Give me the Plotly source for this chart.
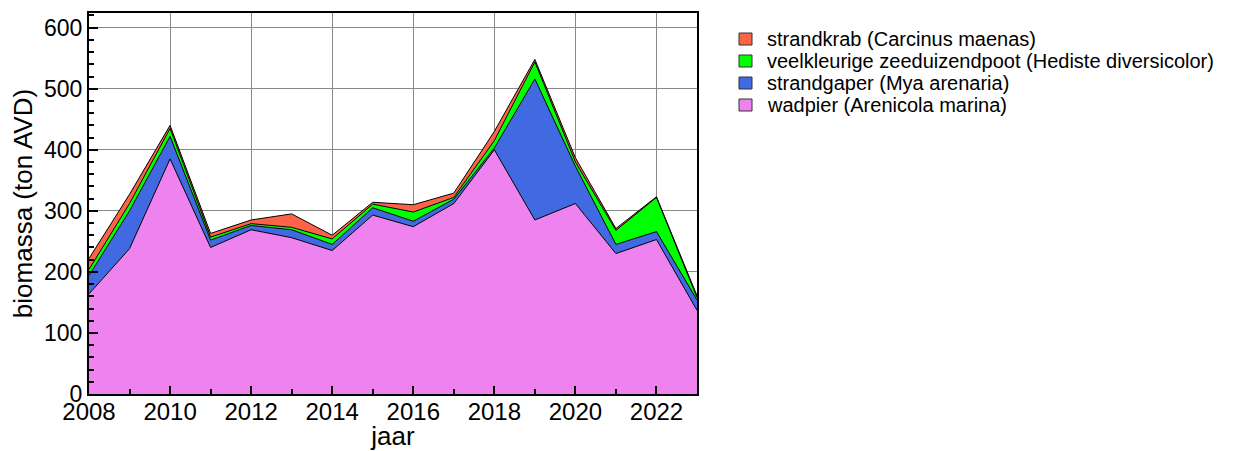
import plotly.graph_objects as go

# jaren en biomassa per soort (ton AVD)
jaar = list(range(2008, 2024))
wadpier = [164, 238, 385, 240, 269, 256, 235, 293, 274, 312, 400, 285, 312, 230, 253, 137]
strandgaper = [30, 62, 37, 12, 7, 13, 10, 12, 9, 7, 3, 231, 61, 15, 13, 17]
zeeduizendpoot = [10, 12, 13, 5, 3, 4, 9, 6, 15, 3, 12, 28, 7, 23, 56, 4]
strandkrab = [18, 15, 5, 6, 6, 22, 6, 3, 12, 7, 15, 4, 7, 3, 1, 3]

namen = [
    "wadpier (Arenicola marina)",
    "strandgaper (Mya arenaria)",
    "veelkleurige zeeduizendpoot (Hediste diversicolor)",
    "strandkrab (Carcinus maenas)",
]
kleuren = ["#EE82EE", "#4169E1", "#00FF00", "#FF6347"]
reeksen = [wadpier, strandgaper, zeeduizendpoot, strandkrab]

# de pagina heeft 8px body-marge, dus figuur iets kleiner en alles 8px verschoven
W, H = 1241, 443
L, R, T, B = 81, 689, 5, 386  # plotgebied in pixels (figuur-coördinaten)

fig = go.Figure()
for naam, waarden, kleur in zip(namen, reeksen, kleuren):
    fig.add_trace(go.Scatter(
        x=jaar, y=waarden, name=naam,
        mode="lines", stackgroup="one",
        line=dict(color="black", width=1),
        fillcolor=kleur, showlegend=False,
    ))

# legenda handmatig (compacter dan de standaard plotly legenda)
def px(x):
    return (x - L) / (R - L)

def py(y):
    return (B - y) / (B - T)

for i, (naam, kleur) in enumerate(reversed(list(zip(namen, kleuren)))):
    yc = 31 + i * 22
    fig.add_shape(type="rect", xref="paper", yref="paper",
                  x0=px(731), x1=px(744), y0=py(yc - 6), y1=py(yc + 6),
                  fillcolor=kleur, line=dict(color="#333333", width=1))
    fig.add_annotation(text=naam, xref="paper", yref="paper",
                       x=px(757), y=py(yc), xanchor="left", yanchor="middle",
                       showarrow=False, font=dict(size=20))

fig.update_layout(
    width=W, height=H,
    margin=dict(l=L, r=W - R, t=T, b=H - B),
    plot_bgcolor="white", paper_bgcolor="white",
    font=dict(family="Liberation Sans, Arial, sans-serif", size=23, color="black"),
    showlegend=False,
    xaxis=dict(
        title=dict(text="jaar", font=dict(size=26), standoff=2),
        range=[2008, 2023], dtick=2, tick0=2008, automargin=False,
        tickfont=dict(size=24), ticklabelstandoff=-5,
        showgrid=True, gridcolor="#888888", gridwidth=1,
        ticks="inside", ticklen=8, tickcolor="black", tickwidth=1.5,
        minor=dict(dtick=1, ticks="inside", ticklen=5, tickcolor="black", showgrid=False),
        showline=True, linecolor="black", linewidth=2, mirror=True,
        zeroline=False, layer="above traces",
    ),
    yaxis=dict(
        title=dict(text="biomassa (ton AVD)", font=dict(size=26), standoff=6),
        range=[0, 624], dtick=100, automargin=False,
        showgrid=True, gridcolor="#888888", gridwidth=1,
        ticks="inside", ticklen=9, tickcolor="black", tickwidth=1.5,
        minor=dict(dtick=20, ticks="inside", ticklen=5, tickcolor="black", showgrid=False),
        showline=True, linecolor="black", linewidth=2, mirror=True,
        zeroline=False, layer="above traces",
    ),
)

fig.write_html("out.html")
